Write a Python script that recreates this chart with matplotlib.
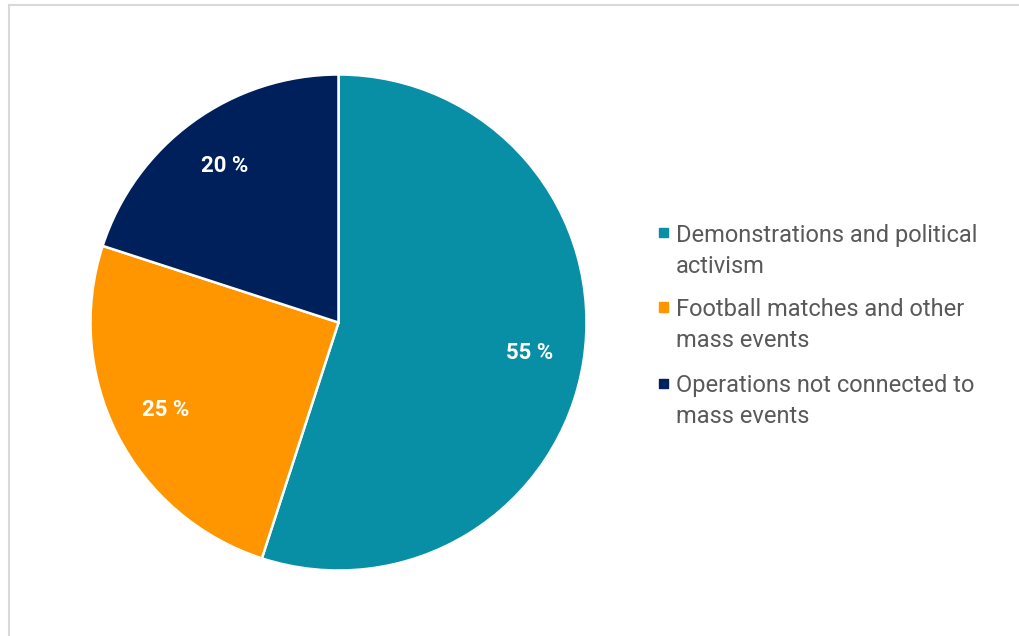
import matplotlib.pyplot as plt
from matplotlib.lines import Line2D
from matplotlib.patches import Rectangle

categories = [
    "Demonstrations and political\nactivism",
    "Football matches and other\nmass events",
    "Operations not connected to\nmass events",
]
shares = [55, 25, 20]
colors = ["#088FA5", "#FF9600", "#00205B"]

plt.rcParams['font.family'] = ['Roboto', 'DejaVu Sans']

W, H = 1020, 636
fig = plt.figure(figsize=(W / 100, H / 100), dpi=100)

# pie axes placed in pixel terms: centre (338.5, 322.5), radius 248
cx, cy, r = 338.5, 322.5, 248
ax = fig.add_axes([(cx - r) / W, (H - cy - r) / H, 2 * r / W, 2 * r / H])
wedges, _, autotexts = ax.pie(
    shares, colors=colors, startangle=90, counterclock=False, radius=1,
    autopct=lambda p: f"{p:.0f} %", pctdistance=0.78,
    wedgeprops=dict(edgecolor="white", linewidth=1.8),
    textprops=dict(color="white", fontsize=16, fontweight="bold"),
)
ax.set_xlim(-1.0, 1.0)
ax.set_ylim(-1.0, 1.0)

# legend drawn by hand so the marker sits on the first line of each label
item_y = [233, 307, 383]
for label, color, y in zip(categories, colors, item_y):
    fig.patches.append(Rectangle(((658.5) / W, (H - y - 4.5) / H), 9 / W, 9 / H,
                                 transform=fig.transFigure, color=color))
    fig.text(676 / W, (H - y + 9) / H, label, ha="left", va="top",
             fontsize=17, color="#595959", linespacing=1.44)

# light frame on the left and top edges
fig.add_artist(Line2D([9 / W, 9 / W], [0, (H - 5) / H], color="#d9d9d9", lw=1.5))
fig.add_artist(Line2D([9 / W, 1], [(H - 5) / H, (H - 5) / H], color="#d9d9d9", lw=1.5))

fig.savefig("out.png", dpi=100)
